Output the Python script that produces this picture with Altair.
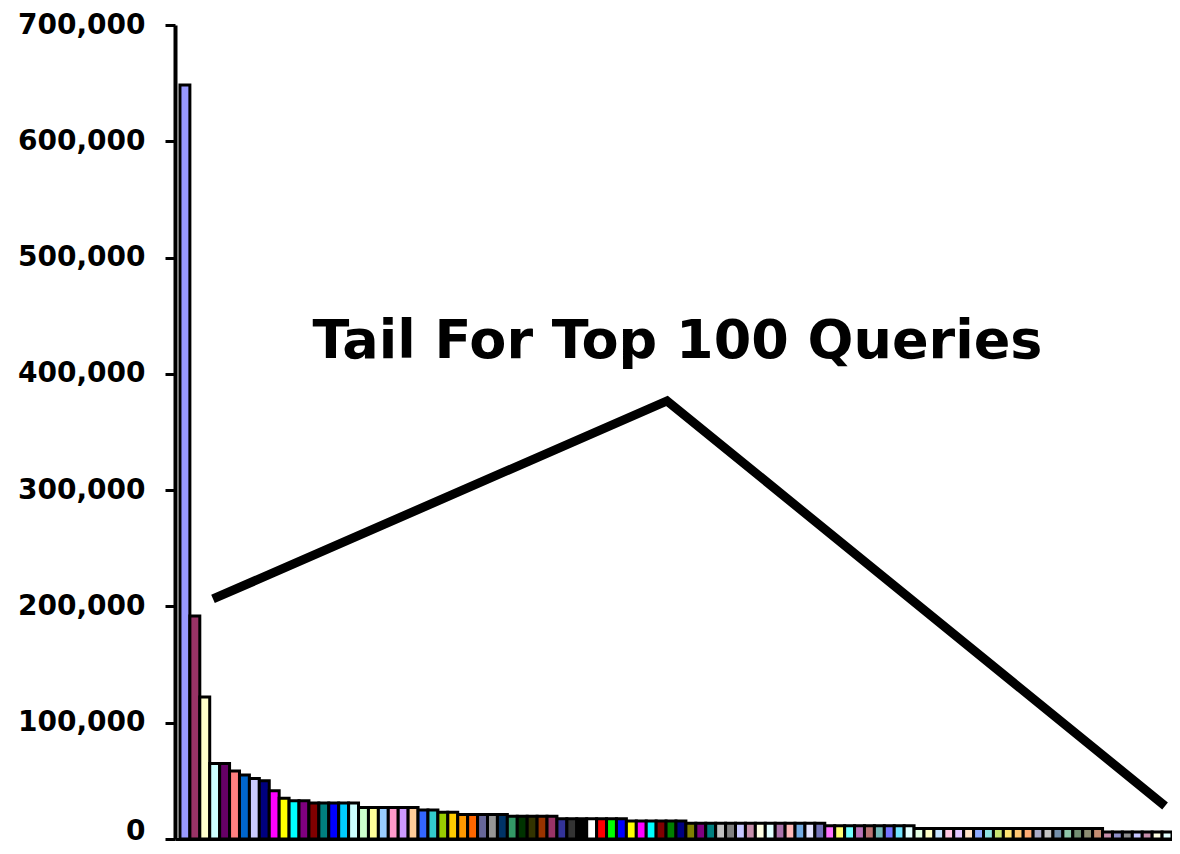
import altair as alt
import pandas as pd

# ---- data ----
ranks = list(range(1, 101))
counts = (
    [648500, 191700, 122200, 65000, 65000, 58500, 55000, 52000, 50000, 41500,
     35000, 33000, 33000]
    + [31000] * 5
    + [27000] * 6
    + [25000] * 2
    + [23000] * 2
    + [21000] * 5
    + [19500] * 5
    + [17500] * 7
    + [15500] * 6
    + [13500] * 14
    + [11500] * 9
    + [9000] * 19
    + [6000] * 7
)

# Excel 2003 default chart fill palette (indices 17-56, then 1-16)
palette_a = ["#9999FF", "#993366", "#FFFFCC", "#CCFFFF", "#660066", "#FF8080", "#0066CC", "#CCCCFF",
             "#000080", "#FF00FF", "#FFFF00", "#00FFFF", "#800080", "#800000", "#008080", "#0000FF",
             "#00CCFF", "#CCFFFF", "#CCFFCC", "#FFFF99", "#99CCFF", "#FF99CC", "#CC99FF", "#FFCC99",
             "#3366FF", "#33CCCC", "#99CC00", "#FFCC00", "#FF9900", "#FF6600", "#666699", "#969696",
             "#003366", "#339966", "#003300", "#333300", "#993300", "#993366", "#333399", "#333333"]
palette_b = ["#000000", "#FFFFFF", "#FF0000", "#00FF00", "#0000FF", "#FFFF00", "#FF00FF", "#00FFFF",
             "#800000", "#008000", "#000080", "#808000", "#800080", "#008080", "#C0C0C0", "#808080"]

annotation_text = ["Tail For Top 100 Queries"]
annotation_x = [50.15]
annotation_y = [413700]

pointer_x = [3.33, 49.1, 99.3]
pointer_y = [206400, 376700, 28400]

y_ticks = [0, 100000, 200000, 300000, 400000, 500000, 600000, 700000]


def lighten(hex_color, amount):
    h = hex_color.lstrip("#")
    r, g, b = int(h[0:2], 16), int(h[2:4], 16), int(h[4:6], 16)
    r = round(r + (255 - r) * amount)
    g = round(g + (255 - g) * amount)
    b = round(b + (255 - b) * amount)
    return "#{:02X}{:02X}{:02X}".format(r, g, b)


fills = []
for i in range(100):
    if i < 40:
        fills.append(palette_a[i])
    elif i < 56:
        fills.append(palette_b[i - 40])
    else:
        # patterned fills in the original: approximate by a lighter tint
        fills.append(lighten(palette_a[(i - 56) % 40], 0.45))

bars_df = pd.DataFrame({
    "rank": ranks,
    "x0": [r - 1 for r in ranks],
    "x1": ranks,
    "count": counts,
    "fill": fills,
})
line_df = pd.DataFrame({"x": pointer_x, "y": pointer_y, "ord": [0, 1, 2]})
text_df = pd.DataFrame({"x": annotation_x, "y": annotation_y, "t": annotation_text})

x_scale = alt.Scale(domain=[-0.5, 100], nice=False, zero=False)
y_scale = alt.Scale(domain=[0, 700000], nice=False)

bars = alt.Chart(bars_df).mark_bar(stroke="black", strokeWidth=3).encode(
    x=alt.X("x0:Q", scale=x_scale,
            axis=alt.Axis(labels=False, ticks=False, title=None, grid=False,
                          domainColor="black", domainWidth=3)),
    x2="x1:Q",
    y=alt.Y("count:Q", scale=y_scale,
            axis=alt.Axis(values=y_ticks, format=",d", title=None, grid=False,
                          labelFont="DejaVu Sans", labelFontWeight="bold",
                          labelFontSize=28, labelColor="black", labelPadding=20,
                          labelOffset={"condition": {"test": "datum.value === 0", "value": -8},
                                       "value": 0},
                          tickSize=10, tickWidth=3, tickColor="black",
                          domainColor="black", domainWidth=4)),
    y2=alt.datum(0),
    fill=alt.Fill("fill:N", scale=None),
)

pointer = alt.Chart(line_df).mark_line(
    color="black", strokeWidth=9, strokeJoin="miter", strokeCap="butt"
).encode(
    x=alt.X("x:Q", scale=x_scale),
    y=alt.Y("y:Q", scale=y_scale),
    order="ord:Q",
)

label = alt.Chart(text_df).mark_text(
    font="DejaVu Sans", fontWeight="bold", fontSize=54, color="black",
    align="center", baseline="alphabetic"
).encode(
    x=alt.X("x:Q", scale=x_scale),
    y=alt.Y("y:Q", scale=y_scale),
    text="t:N",
)

chart = alt.layer(bars, pointer, label).properties(
    width=997,
    height=814,
    autosize=alt.AutoSizeParams(type="none"),
    padding={"left": 167, "top": 17, "right": 0, "bottom": 6},
).configure_view(stroke=None)

chart.save("out.html", embed_options={"renderer": "svg", "actions": False})
